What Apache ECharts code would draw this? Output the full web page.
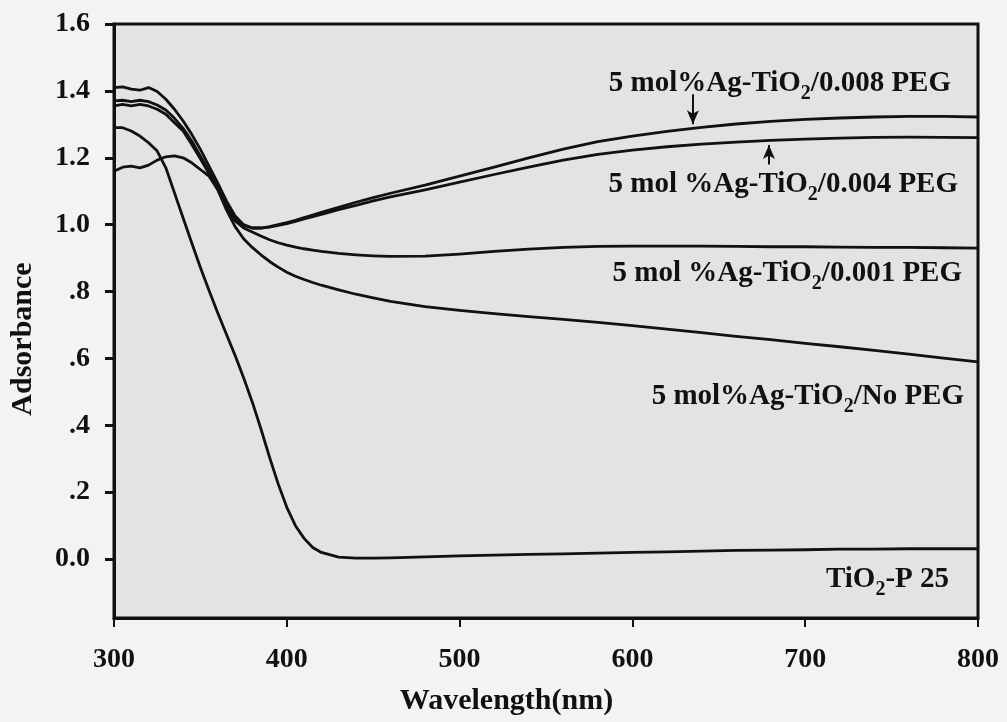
<!DOCTYPE html>
<html>
<head>
<meta charset="utf-8">
<script src="https://cdn.jsdelivr.net/npm/echarts@6/dist/echarts.min.js"></script>
<style>
html,body{margin:0;padding:0;background:#f3f3f3;}
#chart{width:1007px;height:722px;}
</style>
</head>
<body>
<div id="chart"></div>
<script>
const wavelengths = [300,305,310,315,320,325,330,335,340,345,350,355,360,365,370,375,380,385,390,395,400,405,410,415,420,430,440,450,460,480,500,520,540,560,580,600,620,640,660,680,700,720,740,760,780,800];

const peg008 = [1.41,1.412,1.405,1.402,1.41,1.398,1.375,1.345,1.31,1.27,1.225,1.175,1.125,1.072,1.027,1.0,0.99,0.99,0.994,1.0,1.006,1.013,1.021,1.029,1.037,1.052,1.067,1.081,1.094,1.118,1.145,1.172,1.2,1.226,1.248,1.265,1.279,1.291,1.301,1.309,1.315,1.319,1.322,1.324,1.324,1.322];
const peg004 = [1.37,1.372,1.368,1.372,1.368,1.358,1.343,1.318,1.288,1.25,1.205,1.16,1.112,1.062,1.02,0.998,0.99,0.99,0.993,0.998,1.003,1.01,1.017,1.024,1.031,1.045,1.058,1.071,1.083,1.104,1.127,1.15,1.172,1.193,1.21,1.223,1.233,1.241,1.247,1.252,1.256,1.259,1.261,1.262,1.261,1.26];
const peg001 = [1.355,1.36,1.355,1.36,1.355,1.345,1.33,1.305,1.28,1.24,1.197,1.152,1.105,1.055,1.012,0.99,0.978,0.966,0.955,0.946,0.939,0.933,0.928,0.924,0.92,0.914,0.91,0.907,0.905,0.906,0.912,0.92,0.927,0.932,0.935,0.936,0.936,0.936,0.935,0.934,0.934,0.933,0.932,0.932,0.931,0.93];
const noPeg = [1.16,1.172,1.175,1.17,1.178,1.193,1.203,1.206,1.2,1.185,1.165,1.145,1.105,1.045,0.995,0.958,0.932,0.91,0.89,0.873,0.858,0.846,0.836,0.827,0.819,0.805,0.792,0.781,0.771,0.755,0.744,0.734,0.725,0.717,0.708,0.698,0.688,0.677,0.666,0.656,0.645,0.635,0.624,0.613,0.601,0.59];
const p25 = [1.29,1.29,1.28,1.265,1.245,1.22,1.17,1.095,1.02,0.945,0.872,0.803,0.737,0.673,0.61,0.542,0.47,0.39,0.305,0.225,0.155,0.1,0.062,0.035,0.02,0.006,0.003,0.003,0.004,0.007,0.01,0.012,0.014,0.016,0.018,0.02,0.022,0.024,0.026,0.027,0.028,0.03,0.03,0.031,0.031,0.031];

const xTickValues = [300,400,500,600,700,800];
const yTickValues = [0,0.2,0.4,0.6,0.8,1.0,1.2,1.4,1.6];
const yTickLabels = ['0.0','.2','.4','.6','.8','1.0','1.2','1.4','1.6'];

const seriesNames = ['5 mol%Ag-TiO2/0.008 PEG','5 mol%Ag-TiO2/0.004 PEG','5 mol%Ag-TiO2/0.001 PEG','5 mol%Ag-TiO2/No PEG','TiO2-P 25'];
const seriesData = [peg008, peg004, peg001, noPeg, p25];

const FONT = '"Liberation Serif","Times New Roman",serif';
const INK = '#111';

function pairs(vals){ return wavelengths.map((w,i)=>[w, vals[i]]); }

const richStyles = {
  t: {fontSize: 29, fontWeight: 'bold', fontFamily: FONT, fill: INK},
  s: {fontSize: 20, fontWeight: 'bold', fontFamily: FONT, fill: INK, padding: [19,0,0,0]}
};
function richLabel(prefix, suffix){ return '{t|' + prefix + '}{s|2}{t|' + suffix + '}'; }

const chart = echarts.init(document.getElementById('chart'), null, {renderer: 'canvas'});

const series = seriesData.map((d, i) => ({
  name: seriesNames[i],
  type: 'line',
  data: pairs(d),
  showSymbol: false,
  smooth: false,
  lineStyle: {color: INK, width: 2.8, join: 'round'},
  z: 3
}));

series[0].markLine = {
  silent: true, symbol: ['none','arrow'], symbolSize: [9, 14],
  lineStyle: {color: INK, width: 2, type: 'solid'}, label: {show: false},
  data: [[{coord: [635, 1.39]}, {coord: [635, 1.30]}]]
};
series[1].markLine = {
  silent: true, symbol: ['none','arrow'], symbolSize: [9, 14],
  lineStyle: {color: INK, width: 2, type: 'solid'}, label: {show: false},
  data: [[{coord: [679, 1.18]}, {coord: [679, 1.238]}]]
};

const option = {
  animation: false,
  backgroundColor: '#f3f3f3',
  grid: {left: 113, right: 29, top: 24, bottom: 104, show: true, backgroundColor: '#e3e3e3', borderColor: INK, borderWidth: 3},
  xAxis: {
    type: 'value', min: 300, max: 800, interval: 100,
    name: 'Wavelength(nm)', nameLocation: 'middle', nameGap: 68,
    nameTextStyle: {fontFamily: FONT, fontWeight: 'bold', fontSize: 30, color: INK, padding: [0, 79, 0, 0]},
    axisLine: {onZero: false, lineStyle: {color: INK, width: 3}},
    axisTick: {show: true, length: 9, lineStyle: {color: INK, width: 2}},
    axisLabel: {fontFamily: FONT, fontWeight: 'bold', fontSize: 28, color: INK, margin: 28},
    splitLine: {show: false}
  },
  yAxis: {
    type: 'value', min: -0.176, max: 1.6,
    name: 'Adsorbance', nameLocation: 'middle', nameGap: 76, nameRotate: 90,
    nameTextStyle: {fontFamily: FONT, fontWeight: 'bold', fontSize: 30, color: INK, padding: [0, 36, 0, 0]},
    axisLine: {onZero: false, lineStyle: {color: INK, width: 3}},
    axisTick: {show: true, length: 9, customValues: yTickValues, lineStyle: {color: INK, width: 3}},
    axisLabel: {
      fontFamily: FONT, fontWeight: 'bold', fontSize: 28, color: INK, margin: 24,
      customValues: yTickValues,
      formatter: function(v){
        const i = yTickValues.findIndex(t => Math.abs(t - v) < 1e-6);
        return i >= 0 ? yTickLabels[i] : '';
      }
    },
    splitLine: {show: false}
  },
  series: series,
  graphic: [
    {type: 'text', x: 951, y: 84, z: 10, style: {text: richLabel('5 mol%Ag-TiO', '/0.008 PEG'), rich: richStyles, align: 'right', verticalAlign: 'middle', fontFamily: FONT}},
    {type: 'text', x: 958, y: 185, z: 10, style: {text: richLabel('5 mol %Ag-TiO', '/0.004 PEG'), rich: richStyles, align: 'right', verticalAlign: 'middle', fontFamily: FONT}},
    {type: 'text', x: 962, y: 274, z: 10, style: {text: richLabel('5 mol %Ag-TiO', '/0.001 PEG'), rich: richStyles, align: 'right', verticalAlign: 'middle', fontFamily: FONT}},
    {type: 'text', x: 964, y: 397, z: 10, style: {text: richLabel('5 mol%Ag-TiO', '/No PEG'), rich: richStyles, align: 'right', verticalAlign: 'middle', fontFamily: FONT}},
    {type: 'text', x: 949, y: 580, z: 10, style: {text: richLabel('TiO', '-P 25'), rich: richStyles, align: 'right', verticalAlign: 'middle', fontFamily: FONT}}
  ]
};
chart.setOption(option);
</script>
</body>
</html>
